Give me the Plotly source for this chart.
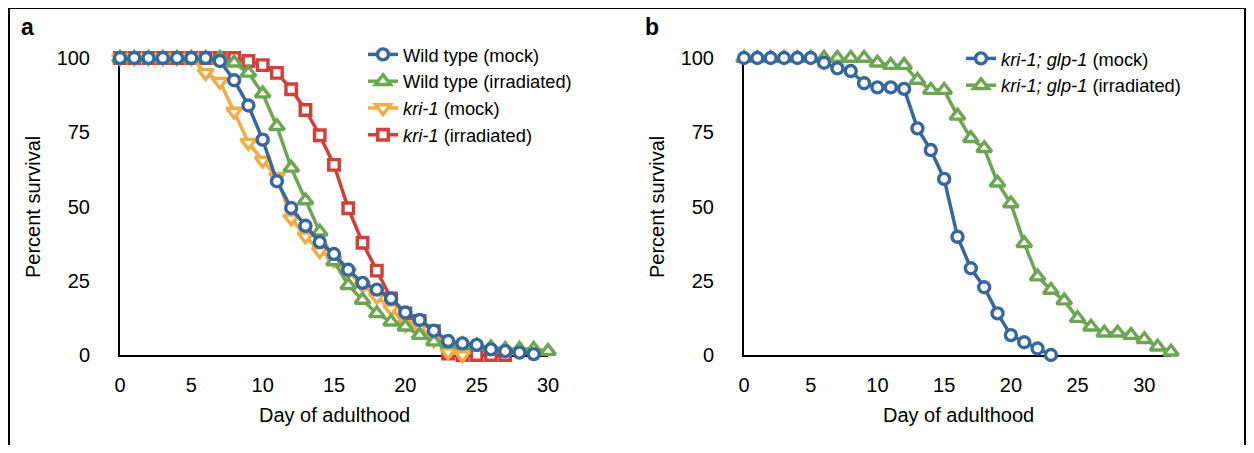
import plotly.graph_objects as go

# ---------------- data ----------------
days_wt_mock = list(range(0, 30))
wt_mock = [100, 100, 100, 100, 100, 100, 100, 99, 92.5, 84, 72.5, 58.5, 49.5, 43.5, 38,
           34, 28.7, 24.3, 22, 19, 14.3, 11.8, 8.2, 4.7, 3.9, 3.4, 1.9, 1.3, 0.8, 0.3]
days_wt_irr = list(range(0, 31))
wt_irr = [100, 100, 100, 100, 100, 100, 100, 100, 98.4, 95, 88, 77, 63, 52, 41.5,
          31.5, 23.5, 18.5, 14, 11.2, 9.5, 6.7, 4.5, 3.8, 3.5, 3.2, 2.5, 2, 2, 2, 1.3]
days_kri_mock = list(range(0, 25))
kri_mock = [100, 100, 100, 100, 100, 100, 95, 92, 82, 71.5, 65.5, 60, 46, 40, 35,
            32, 28, 23.5, 19.6, 15.7, 10.1, 9.5, 5, 1, 0]
days_kri_irr = list(range(0, 28))
kri_irr = [100, 100, 100, 100, 100, 100, 100, 100, 100, 99, 97.6, 95, 89.5, 82.5, 74,
           64, 49.4, 37.8, 28.4, 19, 14, 11.5, 8, 0.5, 0, 0, 0, 0]

days_glp_mock = list(range(0, 24))
glp_mock = [100, 100, 100, 100, 100, 100, 98.4, 96.5, 95.6, 91.5, 90.1, 90.1, 89.6,
            76.3, 69, 59.3, 39.8, 29.2, 22.8, 14, 6.7, 4.3, 2.2, 0]
days_glp_irr = list(range(0, 33))
glp_irr = [100, 100, 100, 100, 100, 100, 100, 100, 100, 100, 98.4, 97.6, 97.6, 92.6,
           89.2, 89.2, 80.5, 73, 69.6, 58, 51, 37.6, 26.4, 21.9, 18.3, 12.4, 9.5, 7.5,
           7.5, 6.7, 5.3, 2.8, 1.1]

x_ticks = [0, 5, 10, 15, 20, 25, 30]
y_ticks = [0, 25, 50, 75, 100]

names_a = ["Wild type (mock)", "Wild type (irradiated)",
           "<i>kri-1</i> (mock)", "<i>kri-1</i> (irradiated)"]
names_b = ["<i>kri-1; glp-1</i> (mock)", "<i>kri-1; glp-1</i> (irradiated)"]

BLUE = "#36679F"
GREEN = "#6DA652"
ORANGE = "#F0AC45"
RED = "#D13F39"

FONT = "Liberation Sans, Arial, sans-serif"
# the page body keeps its default 8px margin; the figure is sized to fit the window
OX, OY = 8, 8
W, H = 1254 - 2 * OX, 453 - 2 * OY


def px_x(p):
    return (p - OX) / W


def px_y(p):
    return 1 - (p - OY) / H


def trace(x, y, name, color, symbol, size, xa, ya, legend, rank):
    return go.Scatter(
        x=x, y=y, name=name, mode="lines+markers",
        line=dict(color=color, width=3.5),
        marker=dict(symbol=symbol, size=size, color="white",
                    line=dict(color=color, width=3.4)),
        xaxis=xa, yaxis=ya, cliponaxis=False,
        legend=legend, legendrank=rank,
    )


fig = go.Figure()
# panel a (draw order: red, orange, green, blue on top)
fig.add_trace(trace(days_kri_irr, kri_irr, names_a[3], RED, "square", 10.5, "x", "y", "legend", 4))
fig.add_trace(trace(days_kri_mock, kri_mock, names_a[2], ORANGE, "triangle-down", 13, "x", "y", "legend", 3))
fig.add_trace(trace(days_wt_irr, wt_irr, names_a[1], GREEN, "triangle-up", 13, "x", "y", "legend", 2))
fig.add_trace(trace(days_wt_mock, wt_mock, names_a[0], BLUE, "circle", 11, "x", "y", "legend", 1))
# panel b
fig.add_trace(trace(days_glp_irr, glp_irr, names_b[1], GREEN, "triangle-up", 13, "x2", "y2", "legend2", 2))
fig.add_trace(trace(days_glp_mock, glp_mock, names_b[0], BLUE, "circle", 11, "x2", "y2", "legend2", 1))

axis_common = dict(
    showline=True, linecolor="black", linewidth=2, showgrid=False, zeroline=False,
    ticks="", tickfont=dict(family=FONT, size=20, color="black"),
    layer="below traces", fixedrange=True, automargin=False,
)

fig.update_layout(
    width=W, height=H,
    margin=dict(l=0, r=0, t=0, b=0, pad=0, autoexpand=False),
    paper_bgcolor="white", plot_bgcolor="white",
    font=dict(family=FONT, size=20, color="black"),
    xaxis=dict(domain=[px_x(120), px_x(548)], range=[0, 30], tickvals=x_ticks,
               ticklabelstandoff=11, anchor="y", **axis_common),
    yaxis=dict(domain=[px_y(355), px_y(58)], range=[0, 100], tickvals=y_ticks,
               ticklabelstandoff=24, anchor="x", **axis_common),
    xaxis2=dict(domain=[px_x(744), px_x(1171)], range=[0, 32], tickvals=x_ticks,
                ticklabelstandoff=11, anchor="y2", **axis_common),
    yaxis2=dict(domain=[px_y(355), px_y(58)], range=[0, 100], tickvals=y_ticks,
                ticklabelstandoff=24, anchor="x2", **axis_common),
    legend=dict(x=px_x(363), y=px_y(36), xanchor="left", yanchor="top",
                bgcolor="rgba(0,0,0,0)", font=dict(family=FONT, size=18.3),
                traceorder="normal", tracegroupgap=0),
    legend2=dict(x=px_x(961), y=px_y(40), xanchor="left", yanchor="top",
                 bgcolor="rgba(0,0,0,0)", font=dict(family=FONT, size=18.3),
                 traceorder="normal", tracegroupgap=0),
    showlegend=True,
)

annotations = [
    dict(text="<b>a</b>", x=px_x(27), y=px_y(27)),
    dict(text="<b>b</b>", x=px_x(652), y=px_y(27)),
    dict(text="Day of adulthood", x=px_x(334), y=px_y(415)),
    dict(text="Day of adulthood", x=px_x(958), y=px_y(415)),
    dict(text="Percent survival", x=px_x(33), y=px_y(207), textangle=-90),
    dict(text="Percent survival", x=px_x(657), y=px_y(207), textangle=-90),
]
for a in annotations:
    size = 23 if a["text"].startswith("<b>") else 20
    fig.add_annotation(xref="paper", yref="paper", xanchor="center", yanchor="middle",
                       showarrow=False, font=dict(family=FONT, size=size, color="black"),
                       **a)

# outer frame
fig.add_shape(type="rect", xref="paper", yref="paper",
              x0=px_x(9), x1=px_x(1245), y0=-0.1, y1=px_y(8),
              line=dict(color="black", width=2), fillcolor="rgba(0,0,0,0)", layer="below")

fig.write_html("out.html", config={"displayModeBar": False})
